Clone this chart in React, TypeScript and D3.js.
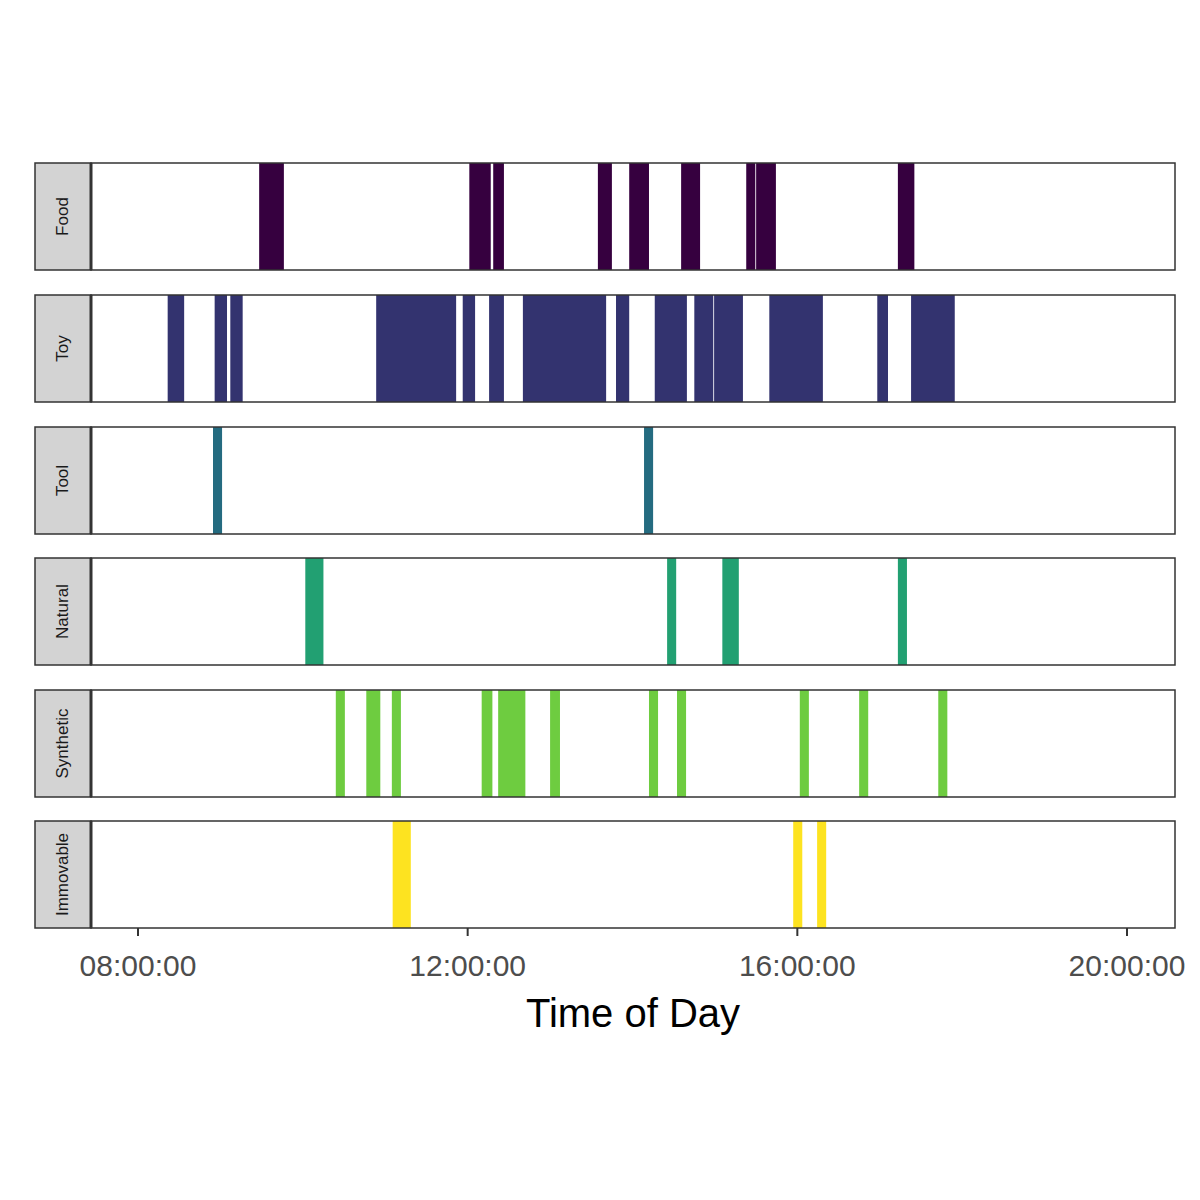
import React from "react";
import * as d3 from "d3";

const categories = ["Food", "Toy", "Tool", "Natural", "Synthetic", "Immovable"];
const colors = ["#36003f", "#33336f", "#246b80", "#22a072", "#6ecc40", "#fde320"];
const intervals: number[][][] = [
  [[9.47,9.77],[12.02,12.28],[12.31,12.44],[13.58,13.75],[13.96,14.2],[14.59,14.82],[15.38,15.49],[15.5,15.74],[17.22,17.42]],
  [[8.36,8.56],[8.93,9.08],[9.12,9.27],[10.89,11.86],[11.94,12.09],[12.26,12.44],[12.67,13.68],[13.8,13.96],[14.27,14.66],[14.75,14.98],[14.99,15.34],[15.66,16.31],[16.97,17.1],[17.38,17.91]],
  [[8.91,9.02],[14.14,14.25]],
  [[10.03,10.25],[14.42,14.53],[15.09,15.29],[17.22,17.33]],
  [[10.4,10.51],[10.77,10.94],[11.08,11.19],[12.17,12.3],[12.37,12.7],[13.0,13.12],[14.2,14.31],[14.54,14.65],[16.03,16.14],[16.75,16.86],[17.71,17.82]],
  [[11.09,11.31],[15.95,16.06],[16.24,16.35]],
];
const ticks = [8, 12, 16, 20];
const tickLabels = ["08:00:00", "12:00:00", "16:00:00", "20:00:00"];

export default function App() {
  const x = d3.scaleLinear().domain([8, 20]).range([138, 1127]);
  const left = 91, right = 1175;
  const tops = [163, 295, 427, 558, 690, 821];
  const h = 107;
  return (
    <svg width={1200} height={1200} style={{ display: "block", position: "absolute", left: 0, top: 0 }} fontFamily="Liberation Sans, Arial, sans-serif">
      <rect width={1200} height={1200} fill="#fff" />
      {categories.map((c, i) => {
        const t = tops[i];
        return (
          <g key={c}>
            <rect x={35} y={t} width={56} height={h} fill="#d3d3d3" stroke="#333" strokeWidth={1.5} />
            <text transform={`translate(68,${t + h / 2}) rotate(-90)`} textAnchor="middle" fontSize={17} fill="#1a1a1a">{c}</text>
            <rect x={left} y={t} width={right - left} height={h} fill="#fff" />
            {intervals[i].map((iv, j) => (
              <rect key={j} x={x(iv[0])} y={t} width={x(iv[1]) - x(iv[0])} height={h} fill={colors[i]} />
            ))}
            <rect x={left} y={t} width={right - left} height={h} fill="none" stroke="#333" strokeWidth={1.5} />
            <line x1={left} x2={left} y1={t} y2={t + h} stroke="#333" strokeWidth={3} />
          </g>
        );
      })}
      {ticks.map((v, i) => (
        <g key={v}>
          <line x1={x(v)} x2={x(v)} y1={928} y2={936} stroke="#333" strokeWidth={2} />
          <text x={x(v)} y={976} textAnchor="middle" fontSize={30} fill="#4d4d4d">{tickLabels[i]}</text>
        </g>
      ))}
      <text x={633} y={1027} textAnchor="middle" fontSize={40} fill="#000">Time of Day</text>
    </svg>
  );
}
